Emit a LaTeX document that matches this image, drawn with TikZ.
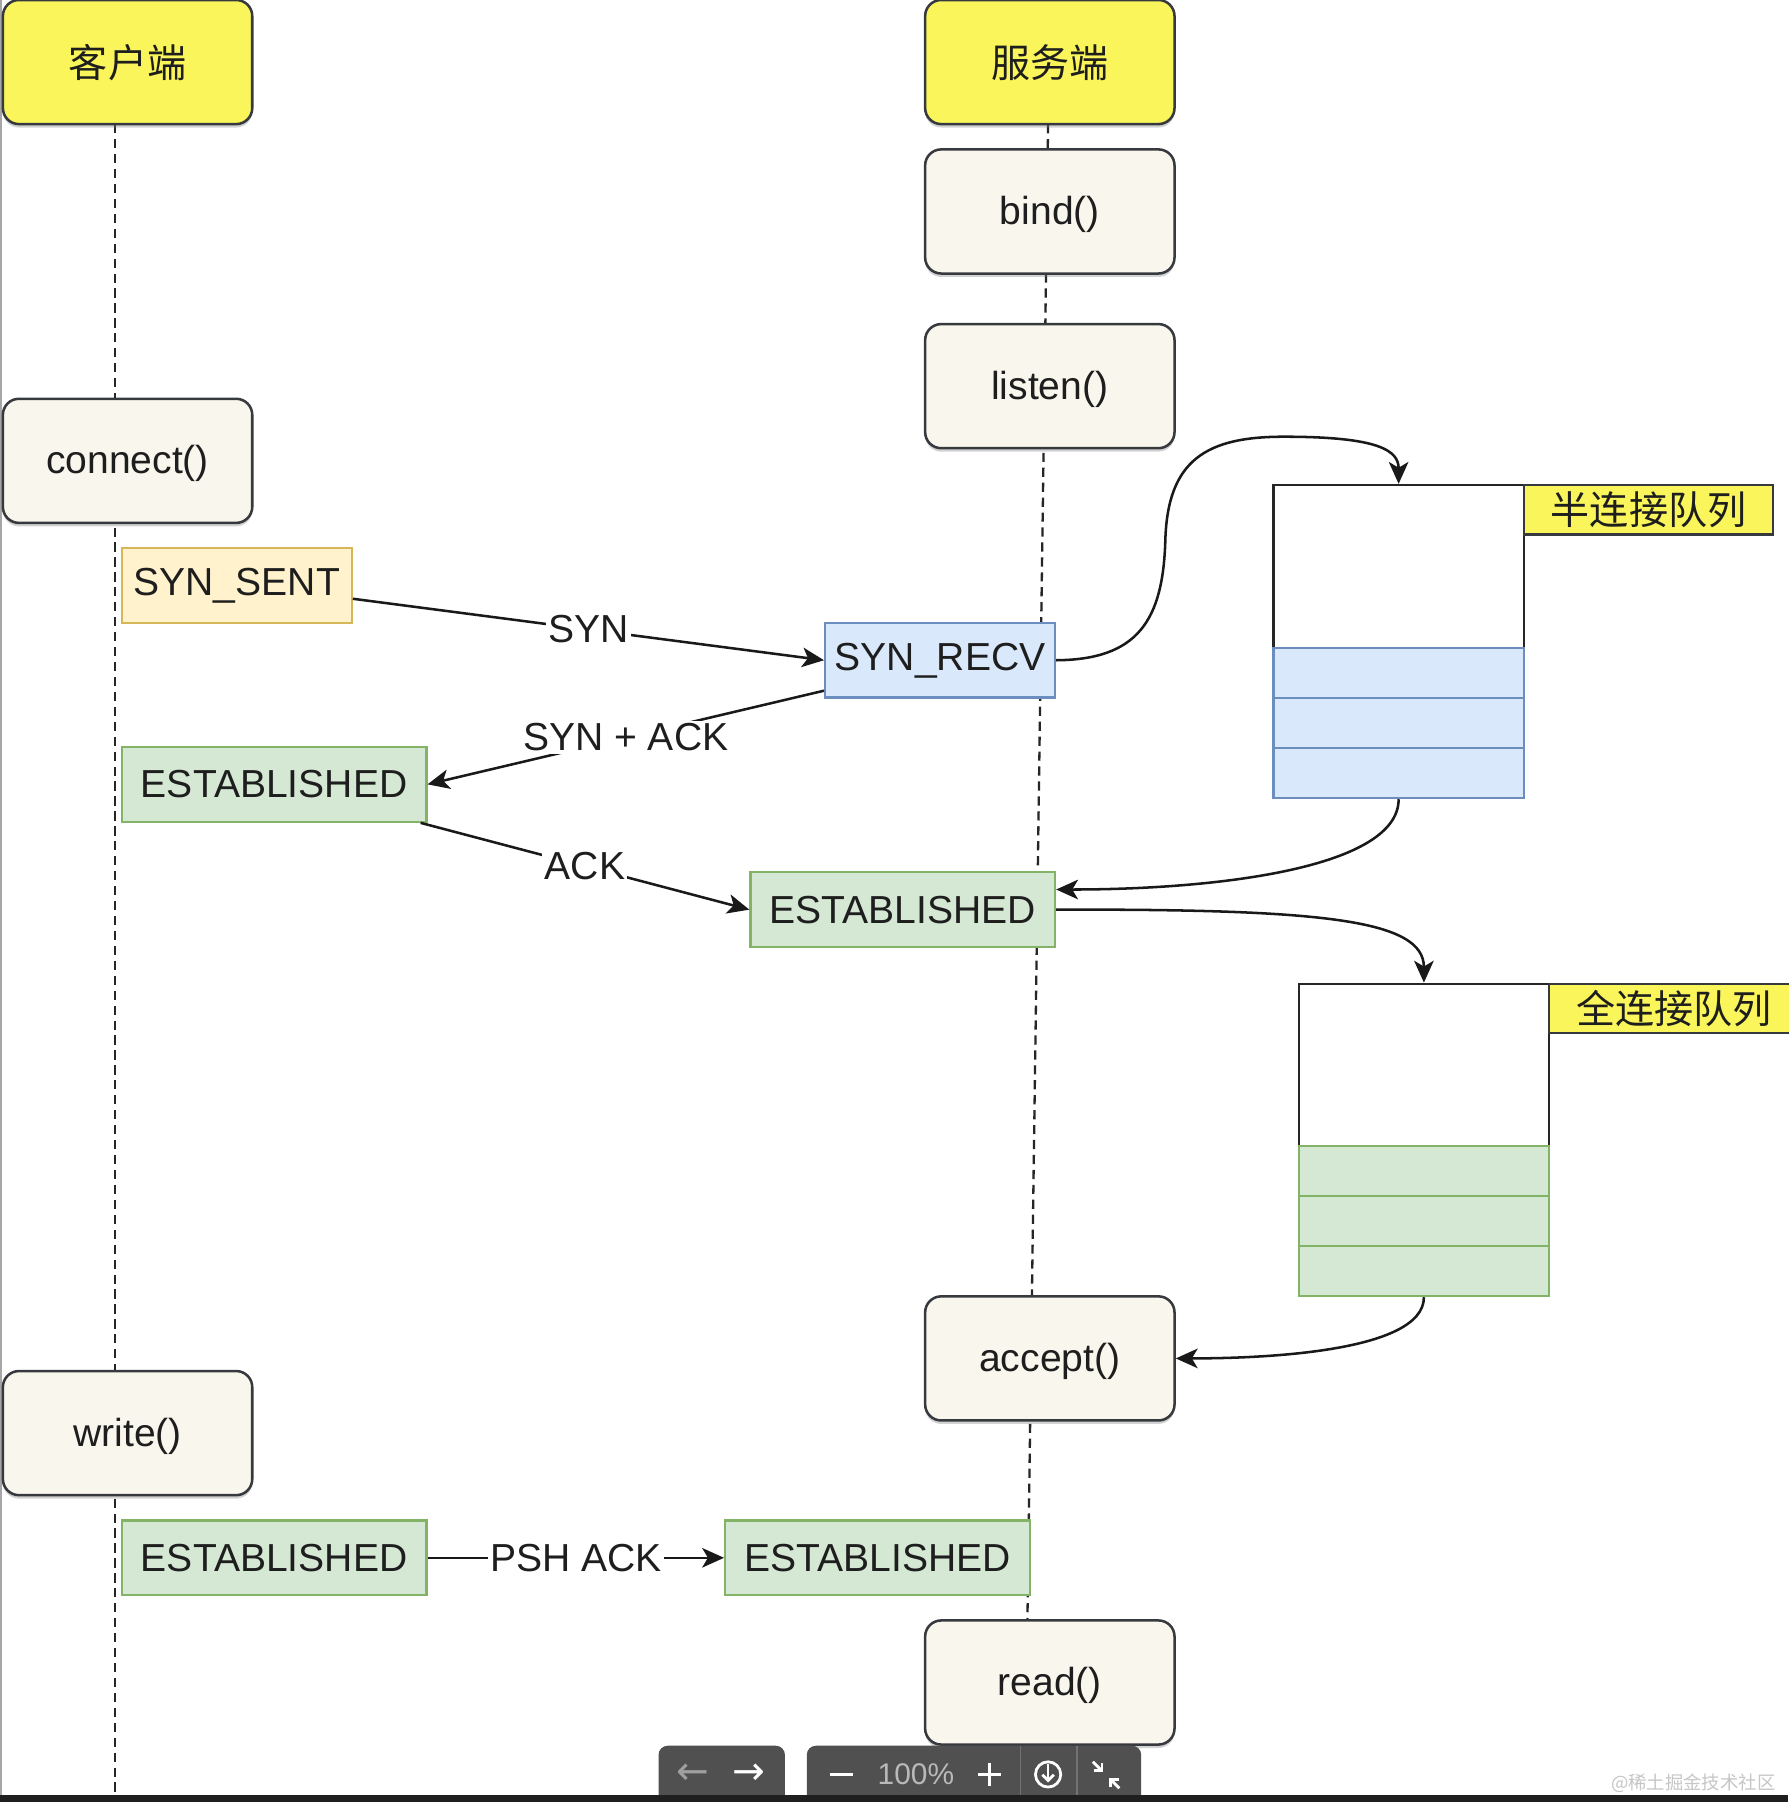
\documentclass[tikz,border=0pt]{standalone}
\usepackage{fontspec}
\setmainfont{Liberation Sans}
\newfontfamily\cjk{Noto Sans CJK SC}
\newfontfamily\djv{DejaVu Sans}
\usetikzlibrary{arrows.meta,shadows}
\definecolor{hdrfill}{RGB}{250,245,90}
\definecolor{boxfill}{RGB}{249,247,237}
\definecolor{boxline}{RGB}{54,57,61}
\definecolor{ylwfill}{RGB}{255,242,204}
\definecolor{ylwline}{RGB}{214,182,86}
\definecolor{bluefill}{RGB}{218,232,252}
\definecolor{blueline}{RGB}{108,142,191}
\definecolor{grnfill}{RGB}{213,232,212}
\definecolor{grnline}{RGB}{130,179,102}
\definecolor{txt}{RGB}{30,30,30}
\definecolor{tbgray}{RGB}{80,80,80}
\tikzset{
  every node/.style={text=txt, font=\fontsize{17pt}{20pt}\selectfont},
  callbox/.style={rounded corners=7pt, draw=boxline, line width=1.1pt, fill=boxfill,
    minimum width=108.5pt, minimum height=54pt, inner sep=0pt, text depth=1pt,
    drop shadow={shadow xshift=0pt, shadow yshift=-1.5pt, opacity=0.35}},
  hdrbox/.style={callbox, fill=hdrfill},
  statebox/.style={draw, line width=1pt, minimum height=32.5pt, inner sep=0pt},
  sentbox/.style={statebox, fill=ylwfill, draw=ylwline, minimum width=100pt},
  recvbox/.style={statebox, fill=bluefill, draw=blueline, minimum width=100pt},
  estbox/.style={statebox, fill=grnfill, draw=grnline, minimum width=132.5pt},
  qwhite/.style={draw=black!85, line width=1pt, fill=white, minimum width=109pt, inner sep=0pt},
  qcell/.style={draw, line width=1pt, minimum width=109pt, minimum height=21.75pt, inner sep=0pt},
  qlabel/.style={draw=boxline, line width=1pt, fill=hdrfill, minimum width=108.5pt, minimum height=21.5pt, inner sep=0pt, font=\cjk\fontsize{17pt}{20pt}\selectfont},
  lifeline/.style={draw=black!85, line width=1pt, dash pattern=on 4pt off 2.5pt},
  msg/.style={draw=black!90, line width=1.1pt, -{Stealth[length=9.5pt,width=8.5pt,inset=2.5pt]}},
  lbl/.style={fill=white, inner sep=1pt}
}
\begin{document}
\begin{tikzpicture}[x=0.5pt,y=-0.5pt]
\useasboundingbox (0,0) rectangle (1556,1568);
\fill[white] (0,0) rectangle (1556,1568);
\draw[gray!70, line width=1pt] (1,0) -- (1,1562);

% lifelines
\coordinate (cl0) at (100,108);
\coordinate (cl1) at (100,1562);
\coordinate (sl0) at (912,108);
\coordinate (sl1) at (894,1410);
\draw[lifeline] (cl0) -- (cl1);
\draw[lifeline] (sl0) -- (sl1);

% call boxes
\node[hdrbox] (hdrC) at (111,54) {\cjk 客户端};
\node[hdrbox] (hdrS) at (913.5,54) {\cjk 服务端};
\node[callbox] (bind) at (913.5,184) {bind()};
\node[callbox] (listen) at (913.5,336) {listen()};
\node[callbox] (connect) at (111,401) {connect()};
\node[callbox] (accept) at (913.5,1182) {accept()};
\node[callbox] (write) at (111,1247) {write()};
\node[callbox] (read) at (913.5,1464) {read()};

% state boxes
\node[sentbox] (synsent) at (206,509.5) {SYN\_SENT};
\node[recvbox] (synrecv) at (818,574.5) {SYN\_RECV};
\node[estbox] (estC1) at (238.5,682.5) {ESTABLISHED};
\node[estbox] (estS1) at (785.5,791.5) {ESTABLISHED};
\node[estbox] (estC2) at (238.5,1355.5) {ESTABLISHED};
\node[estbox] (estS2) at (763.5,1355.5) {ESTABLISHED};

% half-connection queue
\node[qwhite, minimum height=71pt] (hqTop) at (1217,493) {};
\node[qcell, fill=bluefill, draw=blueline] (hq1) at (1217,585.7) {};
\node[qcell, fill=bluefill, draw=blueline] (hq2) at (1217,629.2) {};
\node[qcell, fill=bluefill, draw=blueline] (hq3) at (1217,672.7) {};
\node[qlabel] (hqL) at (1434.5,443.5) {半连接队列};

% full-connection queue
\node[qwhite, minimum height=70.5pt] (fqTop) at (1239,926.5) {};
\node[qcell, fill=grnfill, draw=grnline] (fq1) at (1239,1019) {};
\node[qcell, fill=grnfill, draw=grnline] (fq2) at (1239,1062.5) {};
\node[qcell, fill=grnfill, draw=grnline] (fq3) at (1239,1106) {};
\node[qlabel] (fqL) at (1456.5,877.5) {全连接队列};

% messages
\draw[msg] ([yshift=-5.75pt]synsent.east) -- node[lbl] (lsyn) {SYN} (synrecv.west);
\draw[msg] ([yshift=3.5pt]synrecv.south west) -- node[lbl] (lsynack) {SYN + ACK} (estC1.east);
\draw[msg] ([xshift=-3pt]estC1.south east) -- node[lbl] (lack) {ACK} (estS1.west);
\draw[msg] (estC2.east) -- node[lbl] (lpsh) {PSH ACK} (estS2.west);

% queue flows
\draw[msg] (synrecv.east) .. controls (990,574) and (1012,540) .. (1014,470)
  .. controls (1016,400) and (1050,380) .. (1117,380)
  .. controls (1200,380) and (1217,392) .. (hqTop.north);
\draw[msg] (hq3.south) .. controls (1217,755) and (1060,774) .. ([yshift=8.75pt]estS1.east);
\draw[msg] (estS1.east) .. controls (1150,791) and (1239,800) .. (fqTop.north);
\draw[msg] (fq3.south) .. controls (1239,1178) and (1090,1182) .. (accept.east);

% viewer toolbar overlay
\fill[tbgray, rounded corners=4pt] (573,1519) rectangle (683,1580);
\fill[tbgray, rounded corners=4pt] (702,1519) rectangle (993,1580);
\node[font=\djv\fontsize{17pt}{20pt}\selectfont, text=gray!75] (tbL) at (603,1544) {←};
\node[font=\djv\fontsize{17pt}{20pt}\selectfont, text=white] (tbR) at (652,1544) {→};
\draw[white, line width=1.5pt] (722,1544) -- (742,1544);
\node[font=\fontsize{13pt}{15pt}\selectfont, text=gray!55] (tbZ) at (797,1544) {100\%};
\draw[white, line width=1.5pt] (851,1544) -- (871,1544) (861,1534) -- (861,1554);
\draw[black!55, line width=0.8pt] (888,1519) -- (888,1568) (937,1519) -- (937,1568);
\draw[white, line width=1.2pt] (912,1544) circle (11);
\draw[white, line width=1.2pt, -{Straight Barb[length=2.5pt]}] (912,1535) -- (912,1551);
\draw[white, line width=1.2pt, -{Straight Barb[length=2.5pt]}] (951,1533) -- (960,1542);
\draw[white, line width=1.2pt, -{Straight Barb[length=2.5pt]}] (974,1556) -- (965,1547);
\fill[black!88] (0,1562) rectangle (1556,1568);
\node[font=\cjk\fontsize{8pt}{10pt}\selectfont, text=gray!45, anchor=east] (wm) at (1552,1552) {@稀土掘金技术社区};
\end{tikzpicture}
\end{document}
